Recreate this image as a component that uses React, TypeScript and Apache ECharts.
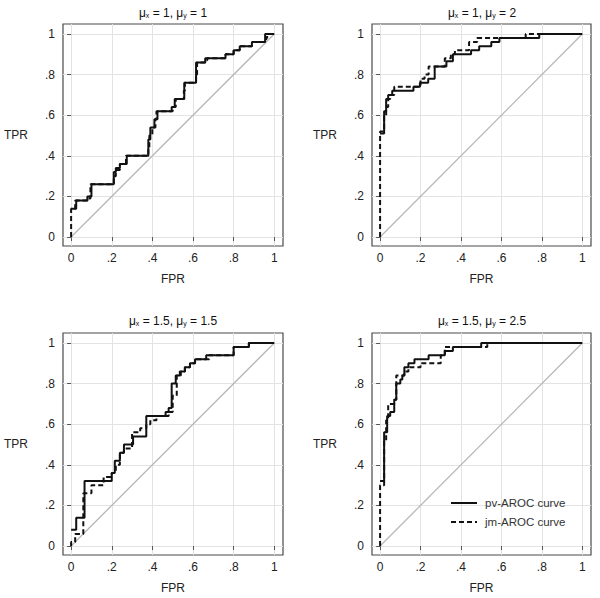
import React, { useEffect, useRef } from "react";
import * as echarts from "echarts";

// ---- data ----
const tickValues = [0, 0.2, 0.4, 0.6, 0.8, 1];
const diagFpr = [0, 1];
const diagTpr = [0, 1];

// Panel 1: mu_x = 1, mu_y = 1
const p1PvFpr = [0, 0.025, 0.08, 0.1, 0.21, 0.22, 0.24, 0.274, 0.38, 0.39, 0.41, 0.425, 0.495, 0.51, 0.557, 0.615, 0.66, 0.76, 0.8, 0.83, 0.89, 0.955, 1];
const p1PvTpr = [0.14, 0.18, 0.2, 0.26, 0.32, 0.34, 0.36, 0.4, 0.48, 0.54, 0.58, 0.62, 0.64, 0.68, 0.76, 0.86, 0.88, 0.9, 0.92, 0.94, 0.96, 1, 1];
const p1JmFpr = [0, 0, 0.02, 0.08, 0.095, 0.21, 0.22, 0.24, 0.27, 0.38, 0.385, 0.4, 0.415, 0.42, 0.5, 0.515, 0.555, 0.56, 0.615, 0.62, 0.66, 0.67, 0.76, 0.8, 0.83, 0.89, 0.96, 0.965, 1];
const p1JmTpr = [0, 0.14, 0.18, 0.19, 0.26, 0.3, 0.33, 0.36, 0.4, 0.44, 0.5, 0.54, 0.58, 0.62, 0.64, 0.68, 0.72, 0.76, 0.8, 0.86, 0.87, 0.88, 0.9, 0.92, 0.94, 0.96, 0.98, 1, 1];

// Panel 2: mu_x = 1, mu_y = 2
const p2PvFpr = [0, 0.02, 0.03, 0.04, 0.06, 0.165, 0.197, 0.238, 0.27, 0.328, 0.36, 0.45, 0.49, 0.55, 0.59, 0.787, 1];
const p2PvTpr = [0.51, 0.62, 0.68, 0.7, 0.72, 0.74, 0.76, 0.78, 0.84, 0.865, 0.9, 0.92, 0.94, 0.96, 0.98, 1, 1];
const p2JmFpr = [0, 0, 0.02, 0.03, 0.04, 0.05, 0.07, 0.2, 0.22, 0.24, 0.32, 0.35, 0.37, 0.44, 0.48, 0.72, 1];
const p2JmTpr = [0, 0.52, 0.6, 0.64, 0.68, 0.7, 0.74, 0.78, 0.8, 0.84, 0.88, 0.9, 0.92, 0.96, 0.98, 1, 1];

// Panel 3: mu_x = 1.5, mu_y = 1.5
const p3PvFpr = [0, 0.025, 0.066, 0.2, 0.215, 0.24, 0.26, 0.305, 0.37, 0.465, 0.48, 0.495, 0.515, 0.535, 0.56, 0.585, 0.61, 0.665, 0.8, 0.875, 1];
const p3PvTpr = [0.08, 0.14, 0.32, 0.36, 0.42, 0.46, 0.5, 0.54, 0.64, 0.66, 0.68, 0.8, 0.84, 0.86, 0.88, 0.9, 0.92, 0.94, 0.98, 1, 1];
const p3JmFpr = [0, 0, 0.02, 0.06, 0.1, 0.16, 0.2, 0.22, 0.24, 0.26, 0.3, 0.34, 0.37, 0.39, 0.42, 0.48, 0.5, 0.52, 0.54, 0.56, 0.585, 0.61, 0.68, 0.8, 0.875, 1];
const p3JmTpr = [0, 0.02, 0.06, 0.26, 0.3, 0.34, 0.36, 0.4, 0.46, 0.48, 0.56, 0.58, 0.6, 0.62, 0.64, 0.66, 0.74, 0.84, 0.86, 0.88, 0.9, 0.92, 0.94, 0.98, 1, 1];

// Panel 4: mu_x = 1.5, mu_y = 2.5
const p4PvFpr = [0, 0.02, 0.035, 0.05, 0.07, 0.08, 0.1, 0.11, 0.12, 0.14, 0.17, 0.24, 0.32, 0.36, 0.5, 1];
const p4PvTpr = [0.32, 0.56, 0.64, 0.66, 0.72, 0.8, 0.82, 0.84, 0.88, 0.9, 0.92, 0.94, 0.96, 0.98, 1, 1];
const p4JmFpr = [0, 0, 0.02, 0.03, 0.04, 0.07, 0.08, 0.12, 0.14, 0.2, 0.3, 0.32, 0.53, 1];
const p4JmTpr = [0, 0.3, 0.52, 0.62, 0.7, 0.72, 0.84, 0.86, 0.88, 0.9, 0.94, 0.98, 1, 1];

const panelTitles = [
  ["1", "1"],
  ["1", "2"],
  ["1.5", "1.5"],
  ["1.5", "2.5"],
];
const pvName = "pv-AROC curve";
const jmName = "jm-AROC curve";
const xName = "FPR";
const yName = "TPR";

const panels = [
  { pv: [p1PvFpr, p1PvTpr], jm: [p1JmFpr, p1JmTpr] },
  { pv: [p2PvFpr, p2PvTpr], jm: [p2JmFpr, p2JmTpr] },
  { pv: [p3PvFpr, p3PvTpr], jm: [p3JmFpr, p3JmTpr] },
  { pv: [p4PvFpr, p4PvTpr], jm: [p4JmFpr, p4JmTpr] },
];

const zip = (a: number[], b: number[]) => a.map((v, i) => [v, b[i]]);
const FONT = "'Liberation Sans', Arial, sans-serif";

export default function App() {
  const ref = useRef<HTMLDivElement>(null);
  useEffect(() => {
    if (!ref.current) return;
    const chart = echarts.init(ref.current, undefined, { renderer: "svg" });
    const gridRects = [
      { left: 63, top: 24, width: 220, height: 222 },
      { left: 372, top: 24, width: 219, height: 222 },
      { left: 63, top: 333, width: 220, height: 222 },
      { left: 372, top: 333, width: 219, height: 222 },
    ];
    const fmt = (v: number) =>
      v === 0 ? "0" : v === 1 ? "1" : String(+v.toFixed(1)).replace(/^0/, "");
    const grid = gridRects.map((g) => ({
      ...g,
      show: true,
      borderColor: "#4a4a4a",
      borderWidth: 1.2,
      backgroundColor: "transparent",
    }));
    const xAxis = gridRects.map((_, i) => ({
      type: "value",
      gridIndex: i,
      min: -0.04,
      max: 1.043,
      name: xName,
      nameLocation: "middle",
      nameGap: 27,
      nameTextStyle: { fontFamily: FONT, fontSize: 12, color: "#222", verticalAlign: "top" },
      axisLine: { show: false },
      axisTick: { show: true, length: 4, customValues: tickValues, lineStyle: { color: "#555" } },
      axisLabel: {
        customValues: tickValues,
        formatter: fmt,
        margin: 6,
        fontFamily: FONT,
        fontSize: 12,
        color: "#222",
      },
      splitLine: { show: true, lineStyle: { color: "#e3e3e3", width: 1 } },
    }));
    const yAxis = gridRects.map((_, i) => ({
      type: "value",
      gridIndex: i,
      min: -0.044,
      max: 1.049,
      name: yName,
      nameLocation: "middle",
      nameRotate: 0,
      nameGap: 35,
      nameTextStyle: { fontFamily: FONT, fontSize: 12, color: "#222" },
      axisLine: { show: false },
      axisTick: { show: true, length: 4, customValues: tickValues, lineStyle: { color: "#555" } },
      axisLabel: {
        customValues: tickValues,
        formatter: fmt,
        margin: 8,
        fontFamily: FONT,
        fontSize: 12,
        color: "#222",
      },
      splitLine: { show: true, lineStyle: { color: "#e3e3e3", width: 1 } },
    }));
    const series: any[] = [];
    panels.forEach((p, i) => {
      series.push({
        type: "line",
        xAxisIndex: i,
        yAxisIndex: i,
        data: zip(diagFpr, diagTpr),
        symbol: "none",
        silent: true,
        lineStyle: { color: "#b8b8b8", width: 1.3 },
        z: 2,
      });
      series.push({
        type: "line",
        name: pvName,
        xAxisIndex: i,
        yAxisIndex: i,
        data: zip(p.pv[0], p.pv[1]),
        step: "end",
        symbol: "none",
        lineStyle: { color: "#111", width: 2, type: "solid" },
        itemStyle: { color: "#111" },
        z: 3,
      });
      series.push({
        type: "line",
        name: jmName,
        xAxisIndex: i,
        yAxisIndex: i,
        data: zip(p.jm[0], p.jm[1]),
        step: "end",
        symbol: "none",
        lineStyle: { color: "#111", width: 2, type: [5, 3] },
        itemStyle: { color: "#111" },
        z: 4,
      });
    });
    const titleGraphics = panelTitles.map((t, i) => {
      const g = gridRects[i];
      return {
        type: "text",
        x: Math.round(g.left + g.width / 2),
        y: i < 2 ? 12 : 320,
        style: {
          text: `{m|μ}{s|x}{m| = ${t[0]}, μ}{s|y}{m| = ${t[1]}}`,
          fill: "#111",
          font: `12px ${FONT}`,
          align: "center",
          verticalAlign: "middle",
          rich: {
            m: { fontFamily: FONT, fontSize: 12, fill: "#111", color: "#111", lineHeight: 14, verticalAlign: "bottom" },
            s: { fontFamily: FONT, fontSize: 7, fill: "#111", color: "#111", lineHeight: 14, verticalAlign: "bottom" },
          },
        },
      };
    });
    chart.setOption({
      animation: false,
      backgroundColor: "#fff",
      grid,
      xAxis,
      yAxis,
      series,
      graphic: titleGraphics,
      legend: {
        show: true,
        orient: "vertical",
        left: 450,
        top: 497,
        padding: 0,
        itemWidth: 26,
        itemHeight: 14,
        itemGap: 7,
        data: [pvName, jmName],
        itemStyle: { opacity: 0, borderWidth: 0 },
        textStyle: { fontFamily: FONT, fontSize: 11.5, color: "#333", padding: [0, 0, 0, 3] },
      },
    });
    return () => chart.dispose();
  }, []);
  return (
    <div
      ref={ref}
      style={{ position: "absolute", left: 0, top: 0, width: 600, height: 598 }}
    />
  );
}
